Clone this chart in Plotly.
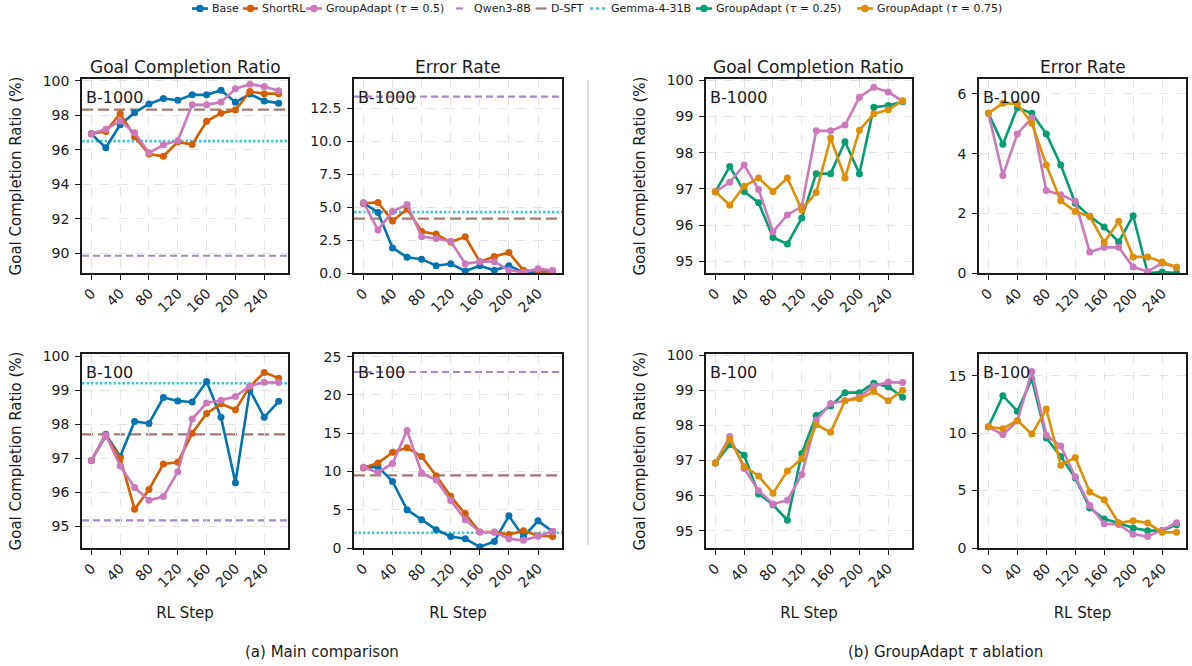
import plotly.graph_objects as go
from plotly.subplots import make_subplots

FONT = "DejaVu Sans"
INK = "#1a1a1a"

# RL training steps (x axis)
steps = list(range(0, 261, 20))
step_ticks = [0, 40, 80, 120, 160, 200, 240]

# ---- Budget B-1000 : goal completion ratio (%) ----
gcr_b1000_base = [96.92, 96.12, 97.45, 98.15, 98.65, 98.97, 98.87, 99.18, 99.18, 99.45, 98.75, 99.23, 98.83, 98.7]
gcr_b1000_shortrl = [96.92, 97.05, 98.1, 96.75, 95.75, 95.62, 96.45, 96.3, 97.65, 98.12, 98.3, 99.37, 99.25, 99.25]
gcr_b1000_ga050 = [96.92, 97.18, 97.66, 96.98, 95.82, 96.28, 96.52, 98.6, 98.6, 98.76, 99.53, 99.8, 99.67, 99.42]
gcr_b1000_ga025 = [96.92, 97.62, 96.93, 96.62, 95.66, 95.48, 96.2, 97.42, 97.42, 98.3, 97.42, 99.25, 99.3, 99.4]
gcr_b1000_ga075 = [96.92, 96.55, 97.07, 97.3, 96.93, 97.3, 96.42, 96.9, 98.4, 97.3, 98.62, 99.07, 99.18, 99.43]

# ---- Budget B-1000 : error rate (%) ----
er_b1000_base = [5.3, 4.6, 1.9, 1.2, 1.05, 0.55, 0.7, 0.15, 0.55, 0.2, 0.55, 0.05, 0.1, 0.15]
er_b1000_shortrl = [5.3, 5.35, 3.95, 4.85, 3.15, 2.95, 2.35, 2.75, 0.85, 1.25, 1.55, 0.2, 0.15, 0.1]
er_b1000_ga050 = [5.35, 3.27, 4.66, 5.2, 2.76, 2.62, 2.4, 0.7, 0.86, 0.86, 0.2, 0.05, 0.33, 0.19]
er_b1000_ga025 = [5.35, 4.31, 5.54, 5.35, 4.66, 3.62, 2.34, 1.9, 1.54, 1.04, 1.92, 0.0, 0.03, 0.0]
er_b1000_ga075 = [5.35, 5.69, 5.66, 5.02, 3.62, 2.42, 2.06, 1.9, 1.03, 1.73, 0.54, 0.54, 0.37, 0.19]

# ---- Budget B-100 : goal completion ratio (%) ----
gcr_b100_base = [96.93, 97.7, 97.05, 98.08, 98.02, 98.78, 98.68, 98.65, 99.25, 98.2, 96.28, 99.0, 98.2, 98.67]
gcr_b100_shortrl = [96.93, 97.65, 97.0, 95.5, 96.08, 96.83, 96.88, 97.73, 98.31, 98.6, 98.42, 99.1, 99.52, 99.35]
gcr_b100_ga050 = [96.93, 97.68, 96.77, 96.14, 95.76, 95.87, 96.6, 98.15, 98.62, 98.7, 98.81, 99.12, 99.23, 99.22]
gcr_b100_ga025 = [96.93, 97.45, 97.15, 96.05, 95.74, 95.3, 97.2, 98.28, 98.55, 98.93, 98.93, 99.2, 99.1, 98.8]
gcr_b100_ga075 = [96.93, 97.6, 96.83, 96.56, 96.07, 96.7, 97.05, 98.02, 97.8, 98.7, 98.76, 98.96, 98.7, 99.0]

# ---- Budget B-100 : error rate (%) ----
er_b100_base = [10.5, 10.6, 8.7, 5.0, 3.7, 2.4, 1.5, 1.2, 0.15, 0.85, 4.2, 1.45, 3.55, 2.15]
er_b100_shortrl = [10.5, 11.1, 12.5, 13.1, 11.95, 9.45, 6.75, 4.5, 2.1, 2.1, 1.75, 2.25, 1.6, 1.5]
er_b100_ga050 = [10.55, 9.87, 11.05, 15.35, 9.8, 8.87, 6.2, 3.7, 2.1, 2.05, 1.2, 1.0, 1.55, 2.2]
er_b100_ga025 = [10.55, 13.25, 11.9, 14.7, 9.57, 7.97, 6.09, 3.48, 2.52, 2.17, 1.74, 1.51, 1.51, 2.03]
er_b100_ga075 = [10.55, 10.38, 11.1, 9.91, 12.09, 7.19, 7.88, 4.87, 4.2, 2.17, 2.38, 2.17, 1.36, 1.36]

# ---- Reference models (horizontal lines): Qwen3-8B, D-SFT, Gemma-4-31B ----
ref_names = ["Qwen3-8B", "D-SFT", "Gemma-4-31B"]
ref_b1000_gcr = [89.85, 98.32, 96.5]
ref_b1000_er = [13.38, 4.12, 4.62]
ref_b100_gcr = [95.17, 97.7, 99.2]
ref_b100_er = [23.0, 9.5, 2.0]

SERIES_COLOR = {
    "Base": "#0173B2",
    "ShortRL": "#D55E00",
    "GroupAdapt (τ = 0.5)": "#CC78BC",
    "GroupAdapt (τ = 0.25)": "#029E73",
    "GroupAdapt (τ = 0.75)": "#DE8F05",
}
REF_STYLE = {
    "Qwen3-8B": dict(color="#a985ca", dash="7px,4px", width=2.2),
    "D-SFT": dict(color="#a3786f", dash="11px,5px", width=2.2),
    "Gemma-4-31B": dict(color="#3fc7d6", dash="2.5px,2px", width=2.6),
}

GCR = "Goal Completion Ratio"
ER = "Error Rate"

panels = [
    dict(row=1, col=1, metric=GCR, budget="B-1000", yr=[88.85, 100.1], yt=[90, 92, 94, 96, 98, 100], fmt="",
         series=[("Base", gcr_b1000_base), ("ShortRL", gcr_b1000_shortrl), ("GroupAdapt (τ = 0.5)", gcr_b1000_ga050)],
         refs=ref_b1000_gcr),
    dict(row=1, col=2, metric=ER, budget="B-1000", yr=[0, 14.72], yt=[0, 2.5, 5, 7.5, 10, 12.5], fmt=".1f",
         series=[("Base", er_b1000_base), ("ShortRL", er_b1000_shortrl), ("GroupAdapt (τ = 0.5)", er_b1000_ga050)],
         refs=ref_b1000_er),
    dict(row=1, col=3, metric=GCR, budget="B-1000", yr=[94.68, 100.03], yt=[95, 96, 97, 98, 99, 100], fmt="",
         series=[("GroupAdapt (τ = 0.25)", gcr_b1000_ga025), ("GroupAdapt (τ = 0.5)", gcr_b1000_ga050),
                 ("GroupAdapt (τ = 0.75)", gcr_b1000_ga075)],
         refs=None),
    dict(row=1, col=4, metric=ER, budget="B-1000", yr=[0, 6.5], yt=[0, 2, 4, 6], fmt="",
         series=[("GroupAdapt (τ = 0.25)", er_b1000_ga025), ("GroupAdapt (τ = 0.5)", er_b1000_ga050),
                 ("GroupAdapt (τ = 0.75)", er_b1000_ga075)],
         refs=None),
    dict(row=2, col=1, metric=GCR, budget="B-100", yr=[94.36, 100.06], yt=[95, 96, 97, 98, 99, 100], fmt="",
         series=[("Base", gcr_b100_base), ("ShortRL", gcr_b100_shortrl), ("GroupAdapt (τ = 0.5)", gcr_b100_ga050)],
         refs=ref_b100_gcr),
    dict(row=2, col=2, metric=ER, budget="B-100", yr=[0, 25.35], yt=[0, 5, 10, 15, 20, 25], fmt="",
         series=[("Base", er_b100_base), ("ShortRL", er_b100_shortrl), ("GroupAdapt (τ = 0.5)", er_b100_ga050)],
         refs=ref_b100_er),
    dict(row=2, col=3, metric=GCR, budget="B-100", yr=[94.51, 100.03], yt=[95, 96, 97, 98, 99, 100], fmt="",
         series=[("GroupAdapt (τ = 0.25)", gcr_b100_ga025), ("GroupAdapt (τ = 0.5)", gcr_b100_ga050),
                 ("GroupAdapt (τ = 0.75)", gcr_b100_ga075)],
         refs=None),
    dict(row=2, col=4, metric=ER, budget="B-100", yr=[0, 16.88], yt=[0, 5, 10, 15], fmt="",
         series=[("GroupAdapt (τ = 0.25)", er_b100_ga025), ("GroupAdapt (τ = 0.5)", er_b100_ga050),
                 ("GroupAdapt (τ = 0.75)", er_b100_ga075)],
         refs=None),
]

W, H = 1192, 666
# panel extents in pixels
col_px = {1: (82, 288), 2: (354, 562), 3: (706, 912), 4: (979, 1186)}
row_px = {1: (79, 273), 2: (354, 548)}


def px_x(v):
    return v / W


def px_y(v):
    return 1 - v / H


fig = make_subplots(rows=2, cols=4)

for p in panels:
    r, c = p["row"], p["col"]
    for name, vals in p["series"]:
        color = SERIES_COLOR[name]
        fig.add_trace(
            go.Scatter(
                x=steps, y=vals, mode="lines+markers", name=name,
                line=dict(color=color, width=2.6),
                marker=dict(color=color, size=7),
                showlegend=False,
            ),
            row=r, col=c,
        )
    if p["refs"] is not None:
        for nm, val in zip(ref_names, p["refs"]):
            st = REF_STYLE[nm]
            fig.add_hline(y=val, row=r, col=c, layer="below",
                          line=dict(color=st["color"], dash=st["dash"], width=st["width"]))

annotations = []
shapes = []
for p in panels:
    r, c = p["row"], p["col"]
    idx = (r - 1) * 4 + c
    xa = "xaxis" if idx == 1 else f"xaxis{idx}"
    ya = "yaxis" if idx == 1 else f"yaxis{idx}"
    x0, x1 = col_px[c]
    y0, y1 = row_px[r]
    fig.layout[xa].update(
        domain=[px_x(x0), px_x(x1)], range=[-13, 273], tickvals=step_ticks, tickangle=-45,
        automargin=False,
        ticks="outside", ticklen=5, tickwidth=1.2, tickcolor=INK,
        showline=True, linecolor=INK, linewidth=1.5, mirror=True,
        showgrid=True, gridcolor="#e3e3e3", griddash="dash", gridwidth=0.8,
        zeroline=False, tickfont=dict(family=FONT, size=14, color=INK),
        title=dict(text="RL Step" if r == 2 else "", font=dict(family=FONT, size=15, color=INK), standoff=18),
    )
    fig.layout[ya].update(
        domain=[px_y(y1), px_y(y0)], range=p["yr"], tickvals=p["yt"], tickformat=p["fmt"],
        automargin=False,
        ticks="outside", ticklen=5, tickwidth=1.2, tickcolor=INK, ticklabelstandoff=3,
        showline=True, linecolor=INK, linewidth=1.5, mirror=True,
        showgrid=True, gridcolor="#e3e3e3", griddash="dash", gridwidth=0.8,
        zeroline=False, tickfont=dict(family=FONT, size=14, color=INK),
        title=dict(text="Goal Completion Ratio (%)" if p["metric"] == GCR else "",
                   font=dict(family=FONT, size=15, color=INK), standoff=17),
    )
    xref = "x" if idx == 1 else f"x{idx}"
    yref = "y" if idx == 1 else f"y{idx}"
    annotations.append(dict(
        text=p["budget"], xref=f"{xref} domain", yref=f"{yref} domain", x=0.01, y=0.965,
        xanchor="left", yanchor="top", showarrow=False, font=dict(family=FONT, size=16, color=INK),
    ))
    if r == 1:
        annotations.append(dict(
            text=p["metric"], xref=f"{xref} domain", yref=f"{yref} domain", x=0.5, y=1.0,
            xanchor="center", yanchor="bottom", yshift=0, showarrow=False,
            font=dict(family=FONT, size=17, color=INK),
        ))

annotations.append(dict(text="(a) Main comparison", xref="paper", yref="paper", x=px_x(322), y=px_y(652),
                        xanchor="center", yanchor="middle", showarrow=False,
                        font=dict(family=FONT, size=15, color=INK)))
annotations.append(dict(text="(b) GroupAdapt <i>τ</i> ablation", xref="paper", yref="paper", x=px_x(945),
                        y=px_y(652), xanchor="center", yanchor="middle", showarrow=False,
                        font=dict(family=FONT, size=15, color=INK)))

# ---- legend row across the top: (name, handle start, handle end, text start) in pixels ----
LEG_Y = 8.5
legend_layout = [
    ("Base", 192, 208, 210),
    ("ShortRL", 243, 258, 259.5),
    ("GroupAdapt (τ = 0.5)", 306, 322, 323.5),
    ("Qwen3-8B", 456, 463, 472),
    ("D-SFT", 535.5, 546.5, 548.5),
    ("Gemma-4-31B", 590, 605, 608.5),
    ("GroupAdapt (τ = 0.25)", 696, 712, 714),
    ("GroupAdapt (τ = 0.75)", 857, 873, 875),
]
for name, hx0, hx1, tx in legend_layout:
    if name in SERIES_COLOR:
        color = SERIES_COLOR[name]
        shapes.append(dict(type="line", xref="paper", yref="paper", x0=px_x(hx0), x1=px_x(hx1),
                           y0=px_y(LEG_Y), y1=px_y(LEG_Y), line=dict(color=color, width=2.6)))
        shapes.append(dict(type="circle", xref="paper", yref="paper", xsizemode="pixel", ysizemode="pixel",
                           xanchor=px_x((hx0 + hx1) / 2), yanchor=px_y(LEG_Y),
                           x0=-3.8, x1=3.8, y0=-3.8, y1=3.8, fillcolor=color, line=dict(width=0)))
    else:
        st = REF_STYLE[name]
        shapes.append(dict(type="line", xref="paper", yref="paper", x0=px_x(hx0), x1=px_x(hx1),
                           y0=px_y(LEG_Y), y1=px_y(LEG_Y),
                           line=dict(color=st["color"], width=st["width"],
                                     dash="dot" if name == "Gemma-4-31B" else "solid")))
    annotations.append(dict(text=name.replace("τ", "<i>τ</i>"), xref="paper", yref="paper",
                            x=px_x(tx), y=px_y(LEG_Y), xanchor="left", yanchor="middle",
                            showarrow=False, font=dict(family=FONT, size=11, color=INK)))

# divider between the two groups of panels
shapes.append(dict(type="line", xref="paper", yref="paper", x0=px_x(588), x1=px_x(588),
                   y0=px_y(545), y1=px_y(80), line=dict(color="#bdbdbd", width=1)))

fig.update_layout(
    width=W, height=H, margin=dict(l=0, r=0, t=0, b=0),
    paper_bgcolor="white", plot_bgcolor="white",
    font=dict(family=FONT, color=INK),
    showlegend=False,
)
for a in annotations:
    fig.add_annotation(**a)
for s in shapes:
    fig.add_shape(**s)

fig.write_html("out.html")
